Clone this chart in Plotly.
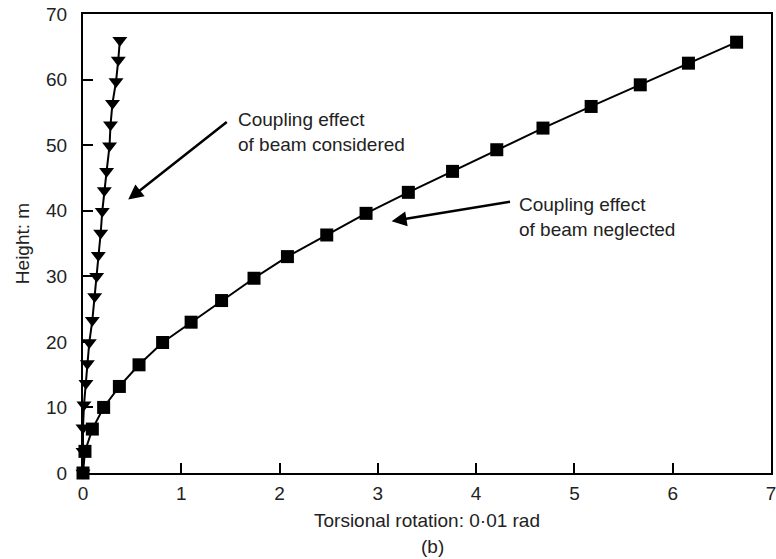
import plotly.graph_objects as go

# Coupling effect of beam neglected (squares)
neglected_rot = [0.0, 0.02, 0.095, 0.21, 0.37, 0.57, 0.81, 1.10, 1.41, 1.74, 2.08,
                 2.48, 2.88, 3.31, 3.76, 4.21, 4.68, 5.17, 5.67, 6.16, 6.65]
neglected_h = [0.0, 3.3, 6.7, 10.0, 13.2, 16.5, 19.9, 23.0, 26.3, 29.7, 33.0,
               36.3, 39.6, 42.8, 46.0, 49.3, 52.6, 55.9, 59.2, 62.5, 65.7]

# Coupling effect of beam considered (triangles)
considered_rot = [0.0, 0.0, 0.0, 0.01, 0.03, 0.044, 0.064, 0.095, 0.119, 0.139, 0.156,
                  0.18, 0.196, 0.217, 0.24, 0.27, 0.28, 0.30, 0.336, 0.359, 0.375]
considered_h = [0.0, 3.3, 6.9, 10.4, 13.7, 16.7, 19.9, 23.3, 26.9, 30.0, 33.2,
                36.6, 39.9, 43.1, 46.0, 49.9, 53.1, 56.4, 59.7, 63.0, 66.0]

x_ticks = [0, 1, 2, 3, 4, 5, 6, 7]
y_ticks = [0, 10, 20, 30, 40, 50, 60, 70]

FONT = "Liberation Sans, Arial, Helvetica, sans-serif"
TXT = "#222222"
FS = 19

fig = go.Figure()
fig.add_trace(go.Scatter(
    x=neglected_rot, y=neglected_h, mode="lines+markers",
    line=dict(color="black", width=2),
    marker=dict(symbol="square", size=13, color="black"),
    showlegend=False, cliponaxis=False))
fig.add_trace(go.Scatter(
    x=considered_rot, y=considered_h, mode="lines+markers",
    line=dict(color="black", width=2),
    marker=dict(symbol="triangle-down", size=13, color="black"),
    showlegend=False, cliponaxis=False))

ann = []
# arrows
ann.append(dict(x=0.46, y=41.7, ax=1.478, ay=53.7, xref="x", yref="y", axref="x", ayref="y",
                text="", showarrow=True, arrowhead=2, arrowsize=1.2, arrowwidth=2.5, arrowcolor="black"))
ann.append(dict(x=3.14, y=38.4, ax=4.36, ay=41.4, xref="x", yref="y", axref="x", ayref="y",
                text="", showarrow=True, arrowhead=2, arrowsize=1.2, arrowwidth=2.5, arrowcolor="black"))
# texts
ann.append(dict(x=1.56, y=52.0, xref="x", yref="y", xanchor="left", yanchor="middle", align="left",
                text="Coupling effect<br>of beam considered", showarrow=False,
                font=dict(family=FONT, size=FS, color=TXT)))
ann.append(dict(x=4.42, y=39.1, xref="x", yref="y", xanchor="left", yanchor="middle", align="left",
                text="Coupling effect<br>of beam neglected", showarrow=False,
                font=dict(family=FONT, size=FS, color=TXT)))
ann.append(dict(x=0.508, y=-0.16, xref="paper", yref="paper", xanchor="center", yanchor="middle",
                text="(b)", showarrow=False, borderpad=0,
                font=dict(family=FONT, size=FS, color=TXT)))
fig.update_layout(annotations=ann)

axis_common = dict(showgrid=False, zeroline=False, showline=True, linecolor="black", linewidth=2,
                   mirror=True, ticks="inside", ticklen=10, tickwidth=2, tickcolor="black",
                   ticklabeloverflow="allow",
                   tickfont=dict(family=FONT, size=FS, color=TXT))
fig.update_xaxes(range=[0, 7], tickvals=x_ticks, ticktext=[str(v) for v in x_ticks],
                 ticklabelstandoff=2,
                 title=dict(text="Torsional rotation: 0·01 rad", standoff=11,
                            font=dict(family=FONT, size=FS, color=TXT)), **axis_common)
fig.update_yaxes(range=[0, 70], tickvals=y_ticks, ticktext=[str(v) for v in y_ticks],
                 ticklabelstandoff=10,
                 title=dict(text="Height: m", standoff=11,
                            font=dict(family=FONT, size=FS, color=TXT)), **axis_common)

fig.update_layout(width=776, height=559, plot_bgcolor="white", paper_bgcolor="white",
                  margin=dict(l=83, r=5, t=14, b=86, autoexpand=False))

fig.write_html("out.html", config={"displayModeBar": False},
               post_script="document.body.style.margin='0px';document.body.style.overflow='hidden';")
